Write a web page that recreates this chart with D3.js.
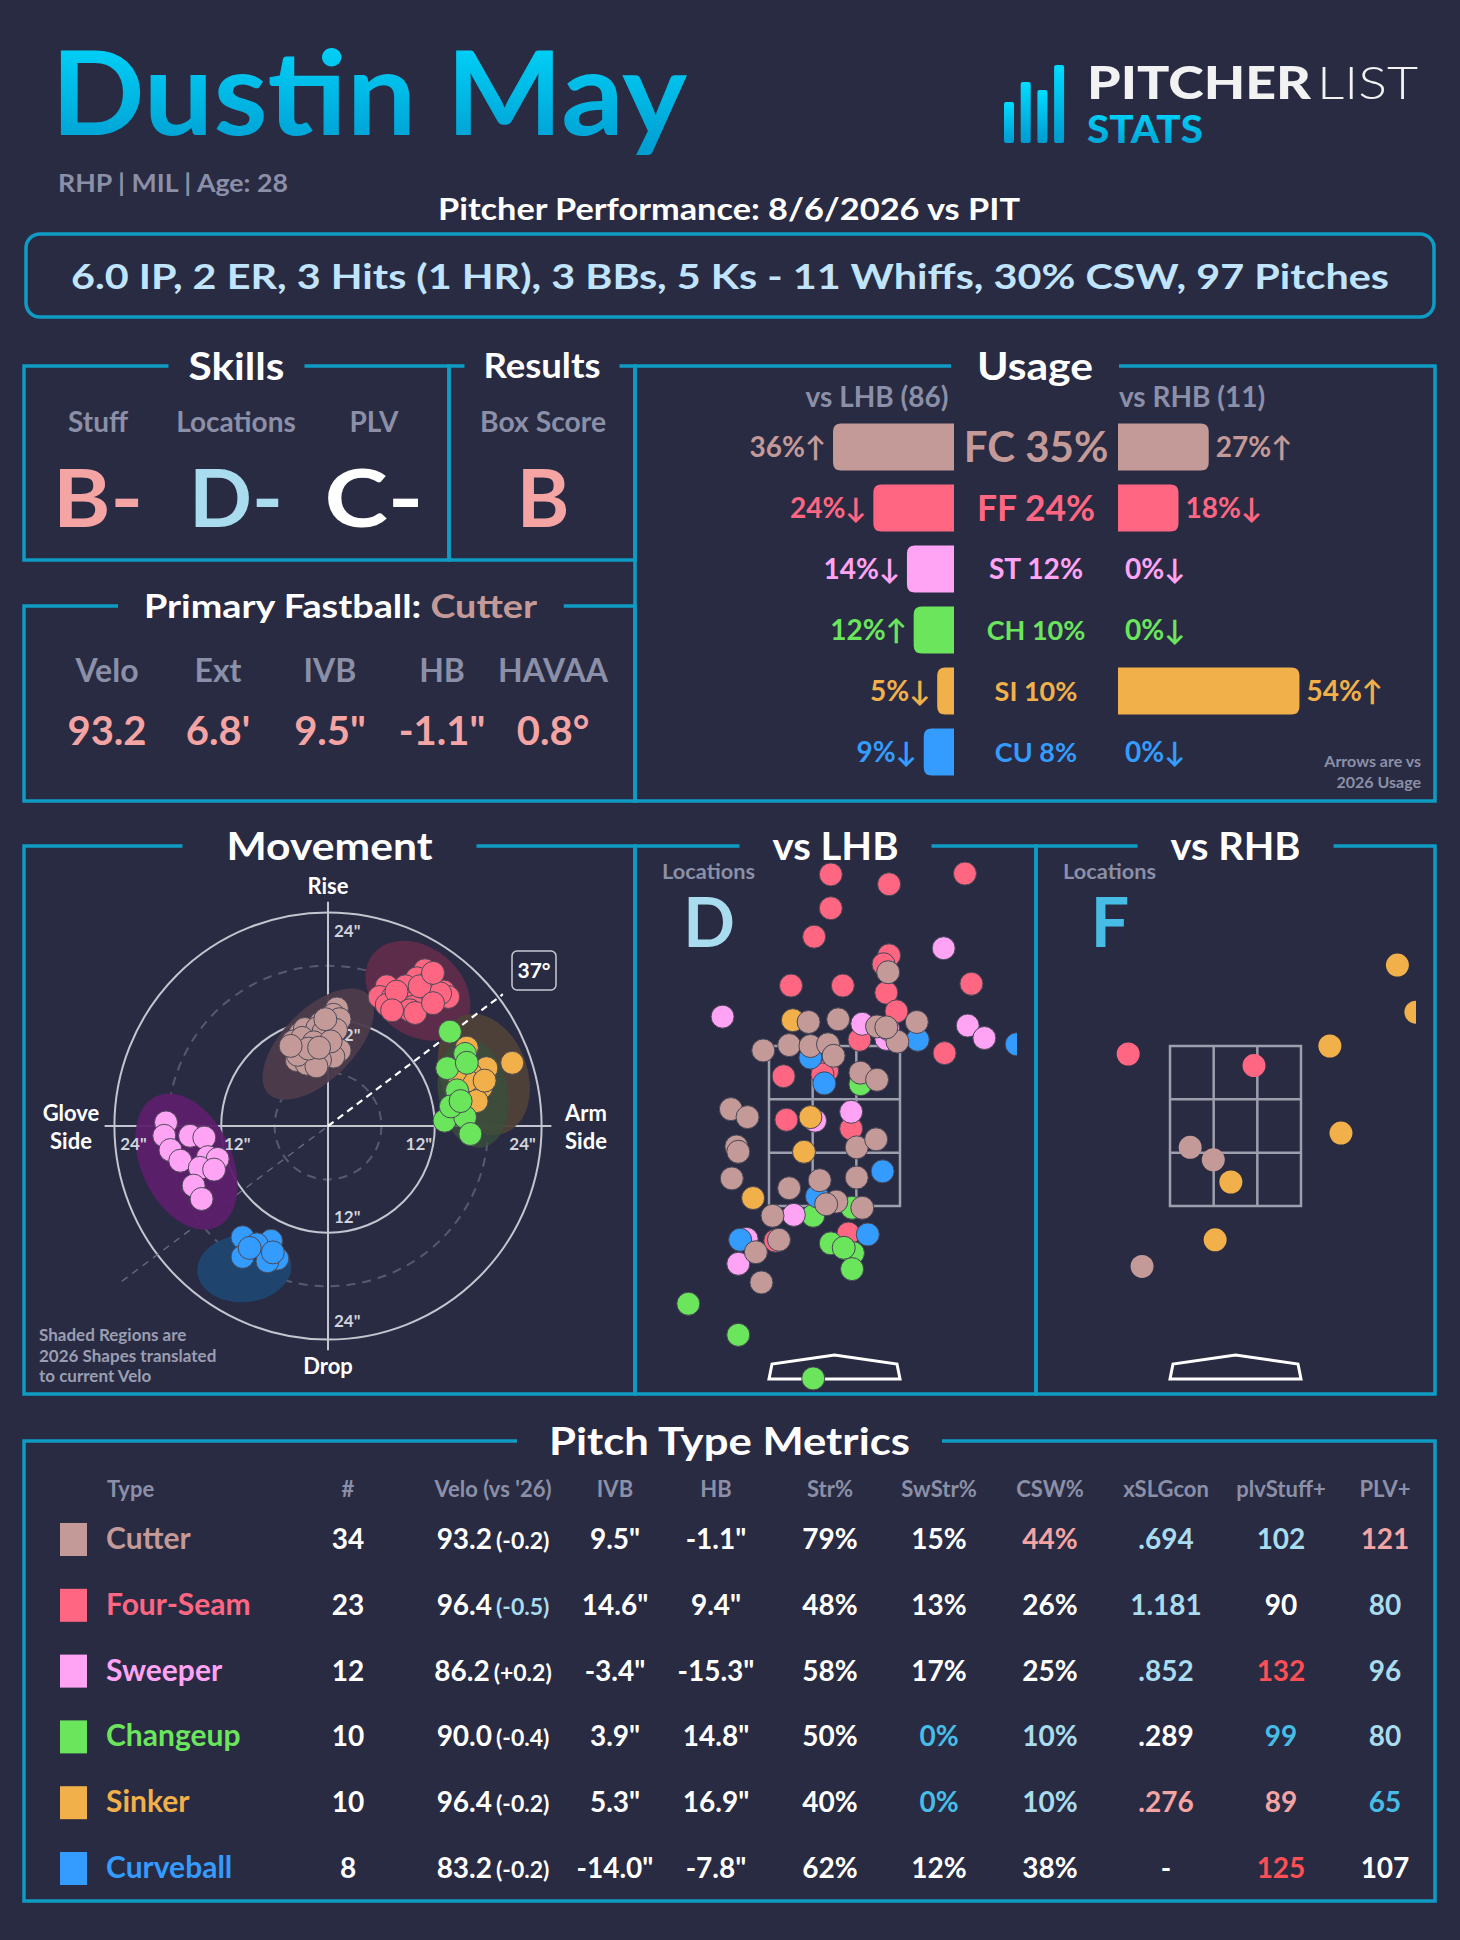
<!DOCTYPE html>
<html>
<head>
<meta charset="utf-8">
<script src="https://d3js.org/d3.v7.min.js"></script>
<style>
  body { margin: 0; background: #292b42; }
  svg { display: block; }
</style>
</head>
<body>
<svg width="1460" height="1940" font-family="Lato, 'Noto Sans', sans-serif"></svg>
<script>

// ---------------- data ----------------
const pitchCodes  = ["FC", "FF", "ST", "CH", "SI", "CU"];
const pitchNames  = ["Cutter", "Four-Seam", "Sweeper", "Changeup", "Sinker", "Curveball"];
const pitchColors = ["#c49a98", "#ff6682", "#ffa4f5", "#6be55c", "#f1b049", "#349bff"];

const gradeLabels = ["Stuff", "Locations", "PLV"];
const gradeValues = ["B-", "D-", "C-"];
const gradeTiers  = ["p", "lb", "w"];
const boxScore = "B";

const fbLabels = ["Velo", "Ext", "IVB", "HB", "HAVAA"];
const fbValues = ["93.2", "6.8'", "9.5\"", "-1.1\"", "0.8°"];

const usageAll = [35, 24, 12, 10, 10, 8];
const usageLHB = [36, 24, 14, 12, 5, 9];
const usageRHB = [27, 18, 0, 0, 54, 0];
const trendLHB = ["up", "down", "down", "up", "down", "down"];
const trendRHB = ["up", "down", "down", "down", "up", "down"];
const countLHB = 86, countRHB = 11;

// movement (HB, IVB) in inches, one pair per pitch
const mvFC = [[1.0,13.2],[0.6,12.5],[1.3,12.0],[0.0,11.3],[-0.8,11.6],[-3.1,10.4],[-1.7,10.2],[-2.6,10.9],[-3.9,9.5],[-2.4,9.3],[-0.9,9.7],[0.6,9.1],[1.3,8.5],[-3.1,8.5],[-1.7,8.3],[-0.2,8.2],[-2.0,7.8],[0.6,7.8],[-3.5,7.4],[-0.9,7.4],[-2.4,7.0],[-1.3,6.7],[0.2,10.4],[-1.2,11.0],[-2.9,9.9],[-0.5,10.6],[-3.4,8.0],[0.9,10.8],[-1.6,9.4],[-0.3,12.0],[-2.2,8.7],[0.3,9.5],[-1.0,8.8],[-4.2,9.0]];
const mvFF = [[10.9,17.5],[10.0,16.6],[11.5,16.4],[6.6,15.7],[8.7,15.7],[13.0,15.1],[10.1,14.7],[13.5,14.5],[5.8,14.5],[7.3,14.5],[8.8,13.8],[11.5,14.2],[8.3,13.4],[9.6,13.4],[6.6,13.6],[12.6,14.9],[9.2,13.0],[10.3,15.7],[7.7,15.1],[11.8,17.2],[9.8,12.7],[7.2,13.0],[11.8,13.8]];
const mvST = [[-18.2,0.4],[-18.4,-1.1],[-15.5,-1.1],[-13.9,-1.3],[-17.7,-2.7],[-13.5,-3.5],[-12.4,-3.7],[-16.6,-3.9],[-14.4,-4.7],[-12.8,-4.9],[-15.1,-6.7],[-14.2,-8.2]];
const mvCH = [[13.7,10.6],[15.4,8.1],[13.4,6.5],[14.5,4.0],[13.1,0.6],[15.4,1.0],[16.0,-0.9],[13.8,2.2],[15.6,7.1],[14.9,2.8]];
const mvSI = [[15.6,8.8],[17.8,6.5],[20.7,7.1],[16.0,5.9],[16.5,4.7],[17.2,4.3],[16.7,2.8],[15.6,5.1],[17.6,5.1],[14.3,6.1]];
const mvCU = [[-9.6,-12.5],[-6.4,-12.9],[-8.0,-13.3],[-9.6,-14.7],[-5.7,-14.9],[-6.8,-15.2],[-8.8,-13.7],[-6.2,-14.2]];
const armAngle = 37;

// 2026 shapes (ellipses) per pitch: centre HB/IVB, semi-axes and tilt in degrees
const shapeHB    = [-1.1, 10.1, -15.9, 16.3, 17.5, -9.4];
const shapeIVB   = [9.2, 15.2, -4.0, 3.7, 5.8, -16.0];
const shapeMajor = [7.9, 6.5, 8.1, 6.2, 7.0, 5.3];
const shapeMinor = [4.0, 4.9, 5.1, 3.9, 4.9, 3.8];
const shapeAngle = [45, -40, -65, -80, -70, 5];

// pitch locations (plate_x, plate_z) in feet
const lhbFF = [[-0.04,5.33],[0.59,5.22],[1.41,5.34],[-0.04,4.95],[-0.22,4.63],[0.59,4.42],[0.53,4.32],[-0.47,4.08],[0.09,4.08],[0.56,4.00],[1.48,4.10],[0.67,3.79],[0.27,3.47],[1.19,3.32],[-0.55,3.06],[-0.08,3.12],[-0.52,2.57],[0.18,2.47],[0.15,1.29],[-0.64,1.21],[-0.13,3.08]];
const lhbST = [[-1.21,3.73],[1.18,4.50],[0.30,3.65],[0.56,3.48],[1.44,3.63],[1.62,3.49],[0.18,2.66],[-0.21,2.56],[-0.44,1.50],[-0.95,1.23],[-1.04,0.95],[0.58,3.59]];
const lhbCH = [[-1.58,0.50],[-1.04,0.15],[-0.23,-0.34],[0.28,2.97],[-0.23,1.49],[0.19,1.58],[-0.04,1.18],[0.20,1.07],[0.19,0.89],[0.10,1.13]];
const lhbSI = [[-0.45,3.69],[-0.26,2.60],[-0.33,2.21],[-0.88,1.69]];
const lhbCU = [[1.97,3.42],[0.90,3.47],[-0.26,3.27],[-0.11,2.98],[0.52,1.99],[-0.19,1.71],[-1.02,1.22],[0.36,1.28]];
const lhbFC = [[0.58,4.23],[-0.28,3.67],[0.04,3.70],[0.46,3.62],[0.89,3.67],[0.68,3.45],[-0.77,3.35],[-0.49,3.41],[-0.26,3.40],[-0.07,3.42],[-0.01,3.29],[0.28,3.10],[0.46,3.02],[-1.12,2.69],[-0.94,2.60],[-1.06,2.27],[-1.04,2.21],[0.24,2.26],[0.45,2.35],[-1.11,1.91],[-0.49,1.80],[-0.16,1.89],[0.24,1.92],[0.02,1.65],[-0.09,1.62],[0.30,1.58],[-0.67,1.49],[-0.60,1.22],[-0.85,1.08],[-0.79,0.74],[0.56,3.61]];
const rhbFF = [[-1.16,3.31],[0.20,3.18]];
const rhbSI = [[1.75,4.31],[1.95,3.78],[1.02,3.40],[1.14,2.42],[-0.05,1.87],[-0.22,1.22]];
const rhbFC = [[-0.49,2.26],[-0.24,2.12],[-1.01,0.92]];
const locGradeLHB = "D", locGradeRHB = "F";

// pitch type metrics
const counts   = [34, 23, 12, 10, 10, 8];
const velo     = [93.2, 96.4, 86.2, 90.0, 96.4, 83.2];
const veloDiff = [-0.2, -0.5, 0.2, -0.4, -0.2, -0.2];
const ivb      = [9.5, 14.6, -3.4, 3.9, 5.3, -14.0];
const hb       = [-1.1, 9.4, -15.3, 14.8, 16.9, -7.8];
const strPct   = [79, 48, 58, 50, 40, 62];
const swStrPct = [15, 13, 17, 0, 0, 12];
const cswPct   = [44, 26, 25, 10, 10, 38];
const xslgCon  = [".694", "1.181", ".852", ".289", ".276", "-"];
const plvStuff = [102, 90, 132, 99, 89, 125];
const plvPlus  = [121, 80, 96, 80, 65, 107];
// colour tiers per cell (w white, lb light blue, c cyan, p pink, r red)
const veloTier  = ["w", "lb", "w", "w", "w", "w"];
const swStrTier = ["w", "w", "w", "c", "c", "w"];
const cswTier   = ["p", "w", "w", "lb", "lb", "w"];
const xslgTier  = ["lb", "lb", "lb", "w", "p", "w"];
const stuffTier = ["lb", "w", "r", "c", "p", "r"];
const plvTier   = ["p", "lb", "lb", "lb", "c", "w"];

// ---------------- drawing ----------------
const svg = d3.select("svg");
const W = +svg.attr("width"), H = +svg.attr("height");
const BG = "#292b42", FRAME = "#0e9cc4", MUTED = "#8b90a8";
const tierColor = { w: "#ffffff", lb: "#a9dcee", c: "#47bde6", p: "#f5a4a4", r: "#ff4f55" };

svg.append("rect").attr("width", W).attr("height", H).attr("fill", BG);

const defs = svg.append("defs");
const grad = defs.append("linearGradient").attr("id", "cyan")
    .attr("x1", 0).attr("y1", 0).attr("x2", 0).attr("y2", 1);
grad.append("stop").attr("offset", "0%").attr("stop-color", "#00dcff");
grad.append("stop").attr("offset", "100%").attr("stop-color", "#009acf");

function fit(sel, w) {
  sel.attr("textLength", w).attr("lengthAdjust", "spacingAndGlyphs");
}

// header
svg.append("text")
    .attr("x", 51).attr("y", 135)
    .attr("font-size", 116).attr("font-weight", 700)
    .attr("fill", "url(#cyan)")
    .text("Dustin May")
    .call(fit, 636);

svg.append("text")
    .attr("x", 58).attr("y", 192)
    .attr("font-size", 25).attr("font-weight", 700)
    .attr("fill", MUTED)
    .text("RHP | MIL | Age: 28")
    .call(fit, 230);

// logo
const logoBars = [102, 82, 90, 65];
svg.append("g").selectAll("rect")
  .data(logoBars)
  .enter().append("rect")
    .attr("x", (d, i) => 1004 + i * 16.7)
    .attr("y", d => d)
    .attr("width", 10)
    .attr("height", d => 143 - d)
    .attr("rx", 2)
    .attr("fill", "url(#cyan)");

svg.append("text")
    .attr("x", 1087).attr("y", 99)
    .attr("font-size", 46).attr("font-weight", 900)
    .attr("fill", "#f2f2f2")
    .text("PITCHER")
    .call(fit, 224);
svg.append("text")
    .attr("x", 1317).attr("y", 99)
    .attr("font-size", 46).attr("font-weight", 300)
    .attr("fill", "#f2f2f2")
    .text("LIST")
    .call(fit, 101);
svg.append("text")
    .attr("x", 1087).attr("y", 143)
    .attr("font-size", 37).attr("font-weight", 900)
    .attr("fill", "url(#cyan)")
    .text("STATS")
    .call(fit, 116);

svg.append("text")
    .attr("x", 729).attr("y", 220)
    .attr("text-anchor", "middle")
    .attr("font-size", 30).attr("font-weight", 700)
    .attr("fill", "#fff")
    .text("Pitcher Performance: 8/6/2026 vs PIT")
    .call(fit, 582);

svg.append("rect")
    .attr("x", 26).attr("y", 234).attr("width", 1408).attr("height", 83)
    .attr("rx", 14)
    .attr("fill", "none").attr("stroke", FRAME).attr("stroke-width", 3.5);
svg.append("text")
    .attr("x", 730).attr("y", 289)
    .attr("text-anchor", "middle")
    .attr("font-size", 35).attr("font-weight", 700)
    .attr("fill", "#c0e4fb")
    .text("6.0 IP, 2 ER, 3 Hits (1 HR), 3 BBs, 5 Ks - 11 Whiffs, 30% CSW, 97 Pitches")
    .call(fit, 1318);

// framed panel with title sitting in the top edge
function panel(x, y, w, h, title, o) {
  const g = svg.append("g");
  const size = o.size || 38;
  const t = g.append("text")
      .attr("x", x + w / 2 + (o.dx || 0))
      .attr("y", y + size * 0.36)
      .attr("text-anchor", "middle")
      .attr("font-size", size).attr("font-weight", 700)
      .attr("fill", "#fff");
  if (typeof title === "string") t.text(title); else title(t);
  if (o.tw) t.call(fit, o.tw);
  const bb = t.node().getBBox();
  const gl = bb.x - o.pad, gr = bb.x + bb.width + o.pad;
  g.insert("path", "text")
      .attr("d", `M${gr},${y}H${x + w}V${y + h}H${x}V${y}H${gl}`)
      .attr("fill", "none")
      .attr("stroke", FRAME).attr("stroke-width", 3.5);
  return g;
}

// ---- Skills / Results ----
panel(24, 366, 425, 194, "Skills", { size: 38, pad: 20, tw: 96 });
panel(449, 366, 186, 194, "Results", { size: 34, pad: 19, tw: 117 });

const skillX = [98, 236, 374];
const gradeW = [90, 94, 99];
svg.append("g").selectAll("text")
  .data(gradeLabels)
  .enter().append("text")
    .attr("x", (d, i) => skillX[i]).attr("y", 432)
    .attr("text-anchor", "middle")
    .attr("font-size", 28).attr("font-weight", 700)
    .attr("fill", MUTED)
    .text(d => d);
svg.append("g").selectAll("text")
  .data(gradeValues)
  .enter().append("text")
    .attr("x", (d, i) => skillX[i]).attr("y", 527)
    .attr("text-anchor", "middle")
    .attr("font-size", 80).attr("font-weight", 700)
    .attr("fill", (d, i) => tierColor[gradeTiers[i]])
    .attr("textLength", (d, i) => gradeW[i])
    .attr("lengthAdjust", "spacingAndGlyphs")
    .text(d => d);
svg.append("text")
    .attr("x", 543).attr("y", 432)
    .attr("text-anchor", "middle")
    .attr("font-size", 28).attr("font-weight", 700)
    .attr("fill", MUTED)
    .text("Box Score")
    .call(fit, 126);
svg.append("text")
    .attr("x", 543).attr("y", 527)
    .attr("text-anchor", "middle")
    .attr("font-size", 80).attr("font-weight", 700)
    .attr("fill", tierColor.p)
    .text(boxScore);

// ---- Primary fastball ----
panel(24, 606, 611, 195, t => {
  t.append("tspan").text("Primary Fastball: ");
  t.append("tspan").attr("fill", pitchColors[0]).text(pitchNames[0]);
}, { size: 33, pad: 26, dx: 11, tw: 393 });

const fbX = [107, 218, 330, 442, 553];
svg.append("g").selectAll("text")
  .data(fbLabels)
  .enter().append("text")
    .attr("x", (d, i) => fbX[i]).attr("y", 682)
    .attr("text-anchor", "middle")
    .attr("font-size", 32).attr("font-weight", 700)
    .attr("fill", MUTED)
    .text(d => d);
svg.append("g").selectAll("text")
  .data(fbValues)
  .enter().append("text")
    .attr("x", (d, i) => fbX[i]).attr("y", 745)
    .attr("text-anchor", "middle")
    .attr("font-size", 40).attr("font-weight", 700)
    .attr("fill", tierColor.p)
    .text(d => d);

// ---- Usage ----
panel(635, 366, 800, 435, "Usage", { size: 38, pad: 26, tw: 116 });

const uCx = 1036, uLeft = 954, uRight = 1118;
const uLen = d3.scaleLinear().domain([0, 100]).range([0, 336]);
const uRow = d3.scaleLinear().domain([0, 1]).range([447, 508]);
const uSize = d3.scaleLinear().domain([10, 35]).range([27, 42]).clamp(true);
const arrow = d => d === "up" ? "\u2191" : "\u2193";

svg.append("text")
    .attr("x", 877).attr("y", 407).attr("text-anchor", "middle")
    .attr("font-size", 28).attr("font-weight", 700).attr("fill", MUTED)
    .text(`vs LHB (${countLHB})`);
svg.append("text")
    .attr("x", 1192).attr("y", 407).attr("text-anchor", "middle")
    .attr("font-size", 28).attr("font-weight", 700).attr("fill", MUTED)
    .text(`vs RHB (${countRHB})`);

function barPath(x0, x1, yc, h, r, roundRight) {
  const y0 = yc - h / 2, y1 = yc + h / 2;
  r = Math.min(r, (x1 - x0) / 2);
  if (roundRight)
    return `M${x0},${y0}H${x1 - r}Q${x1},${y0} ${x1},${y0 + r}V${y1 - r}Q${x1},${y1} ${x1 - r},${y1}H${x0}Z`;
  return `M${x1},${y0}H${x0 + r}Q${x0},${y0} ${x0},${y0 + r}V${y1 - r}Q${x0},${y1} ${x0 + r},${y1}H${x1}Z`;
}

const usage = svg.append("g").selectAll("g")
  .data(pitchCodes)
  .enter().append("g")
    .attr("fill", (d, i) => pitchColors[i]);

usage.filter((d, i) => usageLHB[i] > 0).append("path")
    .attr("d", d => {
      const i0 = pitchCodes.indexOf(d);
      return barPath(uLeft - uLen(usageLHB[i0]), uLeft, uRow(i0), 47, 8, false);
    });
usage.filter((d, i) => usageRHB[i] > 0).append("path")
    .attr("d", d => {
      const i0 = pitchCodes.indexOf(d);
      return barPath(uRight, uRight + uLen(usageRHB[i0]), uRow(i0), 47, 8, true);
    });
usage.append("text")
    .attr("x", uCx)
    .attr("y", (d, i) => uRow(i) + uSize(usageAll[i]) * 0.36)
    .attr("text-anchor", "middle")
    .attr("font-size", (d, i) => uSize(usageAll[i]))
    .attr("font-weight", 700)
    .text((d, i) => `${d} ${usageAll[i]}%`);
usage.append("text")
    .attr("x", (d, i) => uLeft - uLen(usageLHB[i]) - 7)
    .attr("y", (d, i) => uRow(i) + 10)
    .attr("text-anchor", "end")
    .attr("font-size", 28).attr("font-weight", 700)
    .text((d, i) => `${usageLHB[i]}%${arrow(trendLHB[i])}`);
usage.append("text")
    .attr("x", (d, i) => uRight + uLen(usageRHB[i]) + 7)
    .attr("y", (d, i) => uRow(i) + 10)
    .attr("font-size", 28).attr("font-weight", 700)
    .text((d, i) => `${usageRHB[i]}%${arrow(trendRHB[i])}`);

svg.append("text")
    .attr("x", 1421).attr("y", 767).attr("text-anchor", "end")
    .attr("font-size", 16).attr("font-weight", 700).attr("fill", MUTED)
    .text("Arrows are vs");
svg.append("text")
    .attr("x", 1421).attr("y", 788).attr("text-anchor", "end")
    .attr("font-size", 16).attr("font-weight", 700).attr("fill", MUTED)
    .text("2026 Usage");

// ---- Movement ----
panel(24, 846, 611, 548, "Movement", { size: 38, pad: 44, tw: 206 });

const mcx = 328, mcy = 1126;
const mx = d3.scaleLinear().domain([-24, 24]).range([mcx - 213.6, mcx + 213.6]);
const my = d3.scaleLinear().domain([-24, 24]).range([mcy + 213.6, mcy - 213.6]);
const mr = d => mx(d) - mx(0);

const mg = svg.append("g");
mg.selectAll("circle.ring")
  .data([6, 12, 18, 24])
  .enter().append("circle")
    .attr("cx", mcx).attr("cy", mcy)
    .attr("r", mr)
    .attr("fill", "none")
    .attr("stroke", d => d % 12 ? "#565a70" : "#c3c5cf")
    .attr("stroke-width", 2)
    .attr("stroke-dasharray", d => d % 12 ? "9,7" : null);
mg.append("line")
    .attr("x1", mx(-25.1)).attr("x2", mx(25.1)).attr("y1", mcy).attr("y2", mcy)
    .attr("stroke", "#c3c5cf").attr("stroke-width", 2);
mg.append("line")
    .attr("x1", mcx).attr("x2", mcx).attr("y1", my(25.2)).attr("y2", my(-25.2))
    .attr("stroke", "#c3c5cf").attr("stroke-width", 2);

// arm angle
const aRad = armAngle * Math.PI / 180;
mg.append("line")
    .attr("x1", mx(-29 * Math.cos(aRad))).attr("y1", my(-29 * Math.sin(aRad)))
    .attr("x2", mcx).attr("y2", mcy)
    .attr("stroke", "#6a6d82").attr("stroke-width", 1.3).attr("stroke-dasharray", "7,6");

// 2026 shapes
const regionColors = ["#4c3b4b", "#5f2c4b", "#5d1f6b", "#3a503e", "#4e4139", "#1f4670"];
const shapeOrder = [0, 1, 2, 4, 3, 5];
mg.selectAll("ellipse")
  .data(shapeOrder)
  .enter().append("ellipse")
    .attr("cx", i => mx(shapeHB[i])).attr("cy", i => my(shapeIVB[i]))
    .attr("rx", i => mr(shapeMajor[i])).attr("ry", i => mr(shapeMinor[i]))
    .attr("transform", i => `rotate(${-shapeAngle[i]},${mx(shapeHB[i])},${my(shapeIVB[i])})`)
    .attr("fill", i => regionColors[i])
    .attr("fill-opacity", i => i === 3 ? 0.75 : 0.95);

// tick labels
const tickStyle = s => s.attr("font-size", 17).attr("font-weight", 700).attr("fill", "#d2d4dd");
[12, 24].forEach(v => {
  const off = v === 12 ? 16 : 19;
  mg.append("text").attr("x", mcx + 6).attr("y", my(v) + off + 6).call(tickStyle).text(`${v}"`);
  mg.append("text").attr("x", mcx + 6).attr("y", my(-v) - off + 6).call(tickStyle).text(`${v}"`);
  mg.append("text").attr("x", mx(v) - off).attr("y", mcy + 24).attr("text-anchor", "middle").call(tickStyle).text(`${v}"`);
  mg.append("text").attr("x", mx(-v) + off).attr("y", mcy + 24).attr("text-anchor", "middle").call(tickStyle).text(`${v}"`);
});

mg.append("line")
    .attr("x1", mcx).attr("y1", mcy)
    .attr("x2", mx(24.6 * Math.cos(aRad))).attr("y2", my(24.6 * Math.sin(aRad)))
    .attr("stroke", "#fff").attr("stroke-width", 2.2).attr("stroke-dasharray", "7,5");
mg.append("rect")
    .attr("x", 512).attr("y", 951).attr("width", 44).attr("height", 39).attr("rx", 5)
    .attr("fill", BG).attr("stroke", "#c8cad4").attr("stroke-width", 1.5);
mg.append("text")
    .attr("x", 534).attr("y", 978).attr("text-anchor", "middle")
    .attr("font-size", 21).attr("font-weight", 700).attr("fill", "#fff")
    .text(`${armAngle}°`);

// dots
const movement = [mvFC, mvFF, mvST, mvSI, mvCH, mvCU];
const movementIdx = [0, 1, 2, 4, 3, 5];
movement.forEach((pts, k) => {
  mg.append("g").selectAll("circle")
    .data(pts)
    .enter().append("circle")
      .attr("cx", d => mx(d[0])).attr("cy", d => my(d[1]))
      .attr("r", 11.5)
      .attr("fill", pitchColors[movementIdx[k]])
      .attr("stroke", "#4a4a58").attr("stroke-width", 1);
});

const axisLabel = (x, y, t) => mg.append("text")
    .attr("x", x).attr("y", y).attr("text-anchor", "middle")
    .attr("font-size", 22).attr("font-weight", 700).attr("fill", "#fff").text(t);
axisLabel(mcx, 894, "Rise");
axisLabel(mcx, 1374, "Drop");
axisLabel(71, 1121, "Glove");
axisLabel(71, 1149, "Side");
axisLabel(586, 1121, "Arm");
axisLabel(586, 1149, "Side");

["Shaded Regions are", "2026 Shapes translated", "to current Velo"].forEach((t, i) => {
  mg.append("text")
      .attr("x", 39).attr("y", 1341 + i * 20.5)
      .attr("font-size", 17).attr("font-weight", 700).attr("fill", "#9a9eb3")
      .text(t);
});

// ---- Locations ----
function locPanel(px, title, tw, sets, grade, gradeColor, stroke) {
  const pw = px === 635 ? 401 : 399;
  panel(px, 846, pw, 548, title, { size: 38, pad: 33, tw: tw });
  const g = svg.append("g");
  const zl = px + 134, zw = 131;
  const lx = d3.scaleLinear().domain([-0.708, 0.708]).range([zl, zl + zw]);
  const ly = d3.scaleLinear().domain([1.6, 3.4]).range([1206, 1046]);

  g.append("text")
      .attr("x", px + 27).attr("y", 879)
      .attr("font-size", 20).attr("font-weight", 700).attr("fill", MUTED)
      .text("Locations")
      .call(fit, 93);
  g.append("text")
      .attr("x", px + 74).attr("y", 947).attr("text-anchor", "middle")
      .attr("font-size", 68).attr("font-weight", 700).attr("fill", gradeColor)
      .text(grade);

  // zone grid
  const zone = g.append("g").attr("stroke", "#9d9fac").attr("stroke-width", 2.5).attr("fill", "none");
  zone.append("rect")
      .attr("x", lx(-0.708)).attr("y", ly(3.4))
      .attr("width", zw).attr("height", ly(1.6) - ly(3.4));
  [1, 2].forEach(k => {
    zone.append("line")
        .attr("x1", zl + zw * k / 3).attr("x2", zl + zw * k / 3)
        .attr("y1", ly(3.4)).attr("y2", ly(1.6));
    zone.append("line")
        .attr("x1", zl).attr("x2", zl + zw)
        .attr("y1", ly(3.4) + (ly(1.6) - ly(3.4)) * k / 3)
        .attr("y2", ly(3.4) + (ly(1.6) - ly(3.4)) * k / 3);
  });
  const zc = zl + zw / 2, zb = ly(1.6);
  g.append("path")
      .attr("d", `M${zl},${zb + 173}H${zl + zw}L${zl + zw - 3},${zb + 158}L${zc},${zb + 149}L${zl + 3},${zb + 158}Z`)
      .attr("fill", "none").attr("stroke", "#fff").attr("stroke-width", 3);

  const clipId = "clip" + px;
  defs.append("clipPath").attr("id", clipId)
    .append("rect").attr("x", px + 2).attr("y", 848).attr("width", pw - 21).attr("height", 544);
  const dots = g.append("g").attr("clip-path", `url(#${clipId})`);
  sets.forEach(s => {
    dots.append("g").selectAll("circle")
      .data(s.pts)
      .enter().append("circle")
        .attr("cx", d => lx(d[0])).attr("cy", d => ly(d[1]))
        .attr("r", 11.5)
        .attr("fill", pitchColors[s.k])
        .attr("stroke", stroke ? "#454555" : "none").attr("stroke-width", 1);
  });
}

locPanel(635, "vs LHB", 126, [
  { k: 1, pts: lhbFF }, { k: 3, pts: lhbCH }, { k: 2, pts: lhbST },
  { k: 4, pts: lhbSI }, { k: 5, pts: lhbCU }, { k: 0, pts: lhbFC }
], locGradeLHB, tierColor.lb, true);
locPanel(1036, "vs RHB", 130, [
  { k: 1, pts: rhbFF }, { k: 4, pts: rhbSI }, { k: 0, pts: rhbFC }
], locGradeRHB, tierColor.c, false);

// ---- Pitch Type Metrics ----
panel(24, 1441, 1411, 460, "Pitch Type Metrics", { size: 38, pad: 32, tw: 361 });

const colX = { n: 348, velo: 493, ivb: 615, hb: 716, str: 830, sw: 939, csw: 1050, xslg: 1166, stuff: 1281, plv: 1385 };
const headers = [["#", colX.n], ["Velo (vs '26)", colX.velo], ["IVB", colX.ivb], ["HB", colX.hb],
  ["Str%", colX.str], ["SwStr%", colX.sw], ["CSW%", colX.csw], ["xSLGcon", colX.xslg],
  ["plvStuff+", colX.stuff], ["PLV+", colX.plv]];
const tg = svg.append("g");
tg.append("text")
    .attr("x", 107).attr("y", 1497)
    .attr("font-size", 22).attr("font-weight", 700).attr("fill", MUTED)
    .text("Type");
tg.selectAll("text.h")
  .data(headers)
  .enter().append("text")
    .attr("x", d => d[1]).attr("y", 1497)
    .attr("text-anchor", "middle")
    .attr("font-size", 22).attr("font-weight", 700).attr("fill", MUTED)
    .text(d => d[0]);

const rowY = d3.scaleLinear().domain([0, 1]).range([1549, 1614.8]);
const inch = v => `${v.toFixed(1)}"`;
const rows = tg.selectAll("g.row")
  .data(pitchNames)
  .enter().append("g")
    .attr("transform", (d, i) => `translate(0,${rowY(i)})`);

rows.append("rect")
    .attr("x", 60).attr("y", -26).attr("width", 27).attr("height", 33)
    .attr("fill", (d, i) => pitchColors[i]);
rows.append("text")
    .attr("x", 106)
    .attr("font-size", 30).attr("font-weight", 700)
    .attr("fill", (d, i) => pitchColors[i])
    .text(d => d);

function cell(x, val, col) {
  rows.append("text")
      .attr("x", x).attr("text-anchor", "middle")
      .attr("font-size", 28).attr("font-weight", 700)
      .attr("fill", (d, i) => col ? tierColor[col[i]] : "#fff")
      .text((d, i) => val(i));
}
cell(colX.n, i => counts[i]);
const vt = rows.append("text")
    .attr("x", colX.velo).attr("text-anchor", "middle")
    .attr("font-size", 28).attr("font-weight", 700).attr("fill", "#fff");
vt.append("tspan").text((d, i) => velo[i].toFixed(1));
vt.append("tspan")
    .attr("dx", 4).attr("font-size", 23)
    .attr("fill", (d, i) => tierColor[veloTier[i]])
    .text((d, i) => `(${veloDiff[i] > 0 ? "+" : ""}${veloDiff[i].toFixed(1)})`);
cell(colX.ivb, i => inch(ivb[i]));
cell(colX.hb, i => inch(hb[i]));
cell(colX.str, i => `${strPct[i]}%`);
cell(colX.sw, i => `${swStrPct[i]}%`, swStrTier);
cell(colX.csw, i => `${cswPct[i]}%`, cswTier);
cell(colX.xslg, i => xslgCon[i], xslgTier);
cell(colX.stuff, i => plvStuff[i], stuffTier);
cell(colX.plv, i => plvPlus[i], plvTier);

</script>
</body>
</html>
